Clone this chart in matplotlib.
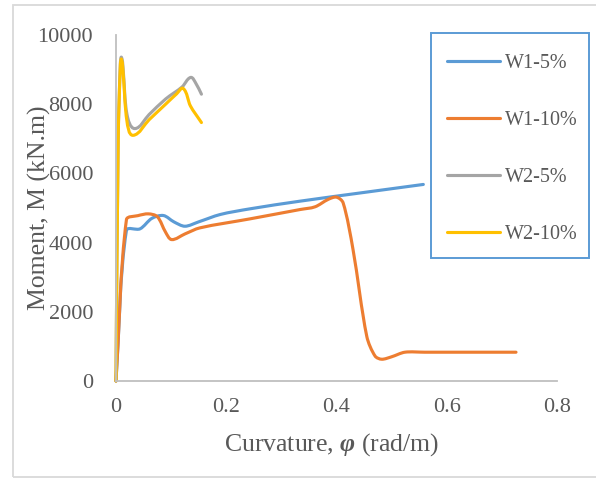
"""Moment-curvature curves for walls W1 and W2 at 5% and 10%."""

import numpy as np
import matplotlib
matplotlib.use('Agg')
import matplotlib.pyplot as plt
from matplotlib.patches import Rectangle, PathPatch
from matplotlib.path import Path
from matplotlib.lines import Line2D
from matplotlib.ticker import FuncFormatter


W1_5_PHI = [0.0, 0.019, 0.0435, 0.065, 0.086, 0.105, 0.125, 0.150, 0.189, 0.243, 0.334, 0.45, 0.5575]
W1_5_M = [0, 4357, 4397, 4700, 4783, 4600, 4473, 4600, 4812, 4976, 5198, 5450, 5681]

W1_10_PHI = [0.0, 0.019, 0.040, 0.0586, 0.075, 0.090, 0.101, 0.125, 0.152, 0.243, 0.334, 0.361,
             0.385, 0.400, 0.412, 0.430, 0.455, 0.470, 0.482, 0.500, 0.524, 0.560, 0.7256]
W1_10_M = [0, 4667, 4780, 4831, 4750, 4300, 4087, 4250, 4425, 4686, 4956, 5034,
           5250, 5313, 5150, 3797, 1285, 720, 629, 700, 832, 832, 832]

W2_5_PHI = [0.0, 0.004, 0.008, 0.010, 0.013, 0.020, 0.034, 0.060, 0.090, 0.120, 0.1355, 0.145, 0.155]
W2_5_M = [0, 7000, 9200, 9354, 9000, 7700, 7296, 7700, 8150, 8500, 8774, 8600, 8290]

W2_10_PHI = [0.0, 0.004, 0.008, 0.010, 0.013, 0.020, 0.031, 0.060, 0.090, 0.110, 0.122, 0.135, 0.155]
W2_10_M = [0, 6985, 9150, 9300, 8900, 7500, 7101, 7550, 8000, 8300, 8455, 7950, 7470]

LABELS = ['W1-5%', 'W1-10%', 'W2-5%', 'W2-10%']
COLORS = ['#5B9BD5', '#ED7D31', '#A5A5A5', '#FFC000']

LINE_WIDTH = 2.25
HANDLE_FRACTION = 0.3
GRID_GREY = '#BFBFBF'
TEXT_GREY = '#595959'

plt.rcParams['font.family'] = ['Liberation Serif', 'DejaVu Serif']
plt.rcParams['mathtext.fontset'] = 'custom'
plt.rcParams['mathtext.rm'] = 'Liberation Serif'
plt.rcParams['mathtext.it'] = 'Liberation Serif:italic:bold'


def unit(v):
    n = np.hypot(*v)
    return v / n if n > 0 else v


def smooth_path(ax, xs, ys):
    """Smoothed line through the points: Bezier segments with handles sized per segment."""
    pts = ax.transData.transform(np.column_stack([xs, ys]))
    n = len(pts)
    tangents = [unit(pts[min(i + 1, n - 1)] - pts[max(i - 1, 0)]) for i in range(n)]
    verts = [pts[0]]
    codes = [Path.MOVETO]
    for i in range(n - 1):
        p1, p2 = pts[i], pts[i + 1]
        seg = np.hypot(*(p2 - p1)) * HANDLE_FRACTION
        verts.extend([p1 + tangents[i] * seg, p2 - tangents[i + 1] * seg, p2])
        codes.extend([Path.CURVE4] * 3)
    return Path(verts, codes)


def main():
    fig = plt.figure(figsize=(5.96, 4.79), dpi=100)
    ax = fig.add_axes([0.1946, 0.2046, 0.7400, 0.7223])

    ax.set_xlim(0, 0.8)
    ax.set_ylim(0, 10000)

    series = [(W1_5_PHI, W1_5_M), (W1_10_PHI, W1_10_M),
              (W2_5_PHI, W2_5_M), (W2_10_PHI, W2_10_M)]
    handles = []
    for (phi, m), label, color in zip(series, LABELS, COLORS):
        path = smooth_path(ax, phi, m)
        patch = PathPatch(path, transform=None, facecolor='none', edgecolor=color,
                          lw=LINE_WIDTH, capstyle='round', joinstyle='round', clip_on=False)
        ax.add_artist(patch)
        handles.append(Line2D([], [], color=color, lw=LINE_WIDTH,
                              solid_capstyle='round', label=label))

    ax.set_xticks([0, 0.2, 0.4, 0.6, 0.8])
    ax.set_yticks([0, 2000, 4000, 6000, 8000, 10000])
    ax.xaxis.set_major_formatter(FuncFormatter(lambda v, _: '0' if v == 0 else f'{v:g}'))
    ax.tick_params(length=0, labelsize=16, colors=TEXT_GREY)
    ax.tick_params(axis='x', pad=12)
    ax.tick_params(axis='y', pad=16.5)

    for side in ['top', 'right']:
        ax.spines[side].set_visible(False)
    for side in ['left', 'bottom']:
        ax.spines[side].set_color(GRID_GREY)
        ax.spines[side].set_linewidth(1.3)

    ax.set_xlabel('Curvature, $\\varphi$ (rad/m)', fontsize=18.5, color=TEXT_GREY)
    ax.xaxis.set_label_coords(0.488, -0.145)
    ax.set_ylabel('Moment, M (kN.m)', fontsize=18.5, color=TEXT_GREY, labelpad=-10)

    # legend box drawn by hand so its size matches the original
    fig.patches.append(Rectangle((430.7 / 596, 1 - 258.3 / 479), 158 / 596, 225 / 479,
                                 transform=fig.transFigure, fill=False,
                                 edgecolor='#5B9BD5', lw=1.4))
    fig.legend(handles=handles, loc='upper left', frameon=False,
               bbox_to_anchor=(438.7 / 596, 1 - 46 / 479), fontsize=14.5,
               handlelength=2.65, handletextpad=0.25, labelspacing=1.875,
               labelcolor=TEXT_GREY, borderaxespad=0)

    # chart area border
    fig.patches.append(Rectangle((13 / 596, 1 - 477 / 479), 600 / 596, 472 / 479,
                                 transform=fig.transFigure, fill=False,
                                 edgecolor='#D9D9D9', lw=1.3))

    fig.savefig('out.png', dpi=100)
    plt.close(fig)


if __name__ == '__main__':
    main()
